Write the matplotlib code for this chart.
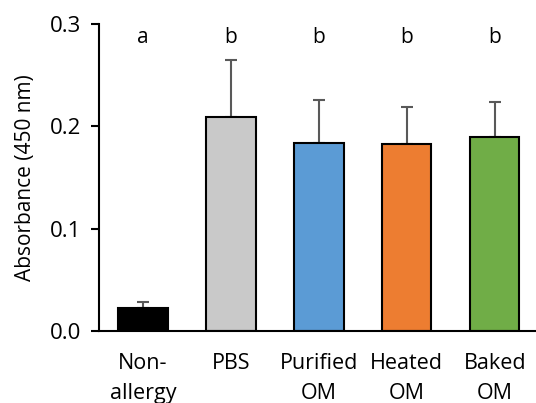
import matplotlib
matplotlib.use("Agg")
import matplotlib.pyplot as plt
import numpy as np

plt.rcParams["font.family"] = ["Open Sans", "DejaVu Sans"]

groups = ["Non-\nallergy", "PBS", "Purified\nOM", "Heated\nOM", "Baked\nOM"]
means = [0.022, 0.209, 0.184, 0.183, 0.189]
errors = [0.006, 0.056, 0.042, 0.036, 0.035]
letters = ["a", "b", "b", "b", "b"]
colors = ["#000000", "#C9C9C9", "#5B9BD5", "#ED7D31", "#70AD47"]
yticks = [0.0, 0.1, 0.2, 0.3]

fig = plt.figure(figsize=(5.36, 4.03), dpi=100)
ax = fig.add_axes([0.185, 0.179, 0.815, 0.762])

x = np.arange(len(groups))
ax.bar(x, means, width=0.56, color=colors, edgecolor="black", linewidth=1.5, zorder=2)
ax.errorbar(x, means, yerr=[np.zeros(len(means)), errors], fmt="none",
            ecolor="#595959", elinewidth=1.5, capsize=4, capthick=1.5, zorder=1)

for xi, lab in zip(x, letters):
    ax.text(xi, 0.287, lab, ha="center", va="center", fontsize=15)

ax.set_xlim(-0.5, 4.47)
ax.set_ylim(0, 0.3)
ax.set_yticks(yticks)
ax.set_yticklabels([f"{t:.1f}" for t in yticks], fontsize=16)
ax.set_xticks(x)
ax.set_xticklabels(groups, fontsize=15.5, linespacing=1.55)
ax.tick_params(axis="x", length=0, pad=16)
ax.tick_params(axis="y", length=6, width=1.5, pad=7)
ax.set_ylabel("Absorbance (450 nm)", fontsize=15, labelpad=10)

for side in ["top", "right"]:
    ax.spines[side].set_visible(False)
for side in ["left", "bottom"]:
    ax.spines[side].set_linewidth(1.5)

fig.savefig("out.png", dpi=100)
